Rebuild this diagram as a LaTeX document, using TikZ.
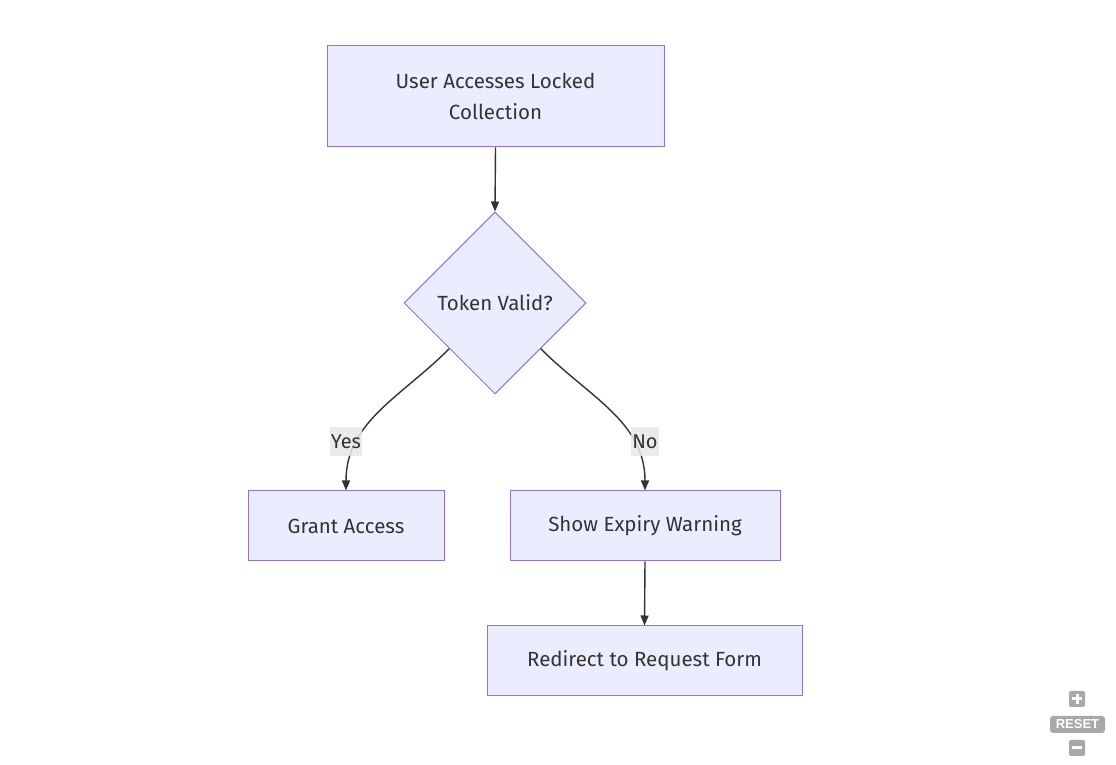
\documentclass[tikz,border=0pt]{standalone}
\usepackage{fontspec}
\setmainfont{Fira Sans}
\newfontfamily\ctrlfont{Liberation Sans}
\usetikzlibrary{arrows.meta}
\usetikzlibrary{shapes.geometric}
\definecolor{boxfill}{HTML}{ECECFF}
\definecolor{boxline}{HTML}{9370DB}
\definecolor{inkgray}{HTML}{333333}
\definecolor{labelbg}{HTML}{E8E8E8}
\definecolor{ctrlgray}{HTML}{A8A8A8}

\begin{document}
\begin{tikzpicture}[x=1pt,y=1pt,
    box/.style={draw=boxline,fill=boxfill,line width=1pt,text=inkgray,
        font=\fontsize{20.5}{31}\selectfont,align=center,inner sep=0pt},
    decision/.style={box,diamond,minimum width=182pt,minimum height=182pt},
    flow/.style={-{Triangle[length=10pt,width=8pt]},line width=1.4pt,inkgray},
    edgelabel/.style={fill=labelbg,fill opacity=0.85,text opacity=1,text=inkgray,
        font=\fontsize{20}{20}\selectfont,inner xsep=1pt,inner ysep=0pt,minimum height=29pt}]

\fill [white] (0,0) rectangle (1116,765);

% the boxes
\node [box,minimum width=337pt,minimum height=101pt] (access) at (495.5,668.5)
    {User Accesses Locked\\Collection};
\node [decision] (token) at (495,462) {Token Valid?};
\node [box,minimum width=196pt,minimum height=70pt] (grant) at (346,239) {Grant Access};
\node [box,minimum width=270pt,minimum height=70pt] (expiry) at (645,239) {Show Expiry Warning};
\node [box,minimum width=315pt,minimum height=70pt] (redirect) at (644.5,104)
    {Redirect to Request Form};

% arrows
\draw [flow] (access.south) -- (token.north);
\draw [flow] (token.south west) to [out=-135,in=90] (grant.north);
\draw [flow] (token.south east) to [out=-45,in=90] (expiry.north);
\draw [flow] (expiry.south) -- (redirect.north);

% yes and no
\node [edgelabel] (yes) at (346,323) {Yes};
\node [edgelabel] (no) at (645,323) {No};

% zoom buttons
\fill [ctrlgray,rounded corners=2pt] (1069,58) rectangle (1085,74);
\draw [white,line width=3pt] (1072,66) -- (1082,66);
\draw [white,line width=3pt] (1077,61) -- (1077,71);
\node [fill=ctrlgray,rounded corners=3pt,text=white,inner sep=0pt,
       minimum width=55pt,minimum height=17pt,
       font=\ctrlfont\bfseries\fontsize{13}{13}\selectfont] (reset) at (1077.5,40.5) {RESET};
\fill [ctrlgray,rounded corners=2pt] (1069,9) rectangle (1085,25);
\draw [white,line width=3pt] (1072,17) -- (1082,17);

\end{tikzpicture}
\end{document}
